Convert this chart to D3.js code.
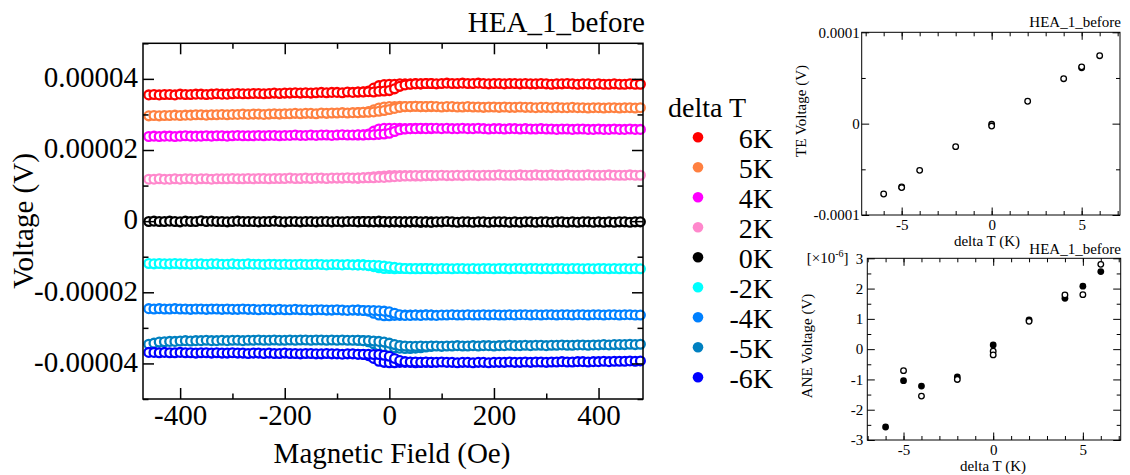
<!DOCTYPE html>
<html>
<head>
<meta charset="utf-8">
<script src="https://cdnjs.cloudflare.com/ajax/libs/d3/7.8.5/d3.min.js"></script>
<style>
  html, body { margin: 0; padding: 0; background: #fff; }
</style>
</head>
<body>
<script>
// ---- data (voltages in µV unless noted) ----
var fieldFwd = [-460,-450,-440,-430,-420,-410,-400,-390,-380,-370,-360,-350,-340,-330,-320,-310,-300,-290,-280,-270,
  -260,-250,-240,-230,-220,-210,-200,-190,-180,-170,-160,-150,-140,-130,-120,-110,-100,-90,-80,-70,-60,-50,
  -40,-30,-20,-10,0,10,20,30,
  40,50,60,70,80,90,100,110,120,130,140,150,160,170,180,190,200,210,220,230,240,250,260,270,280,290,
  300,310,320,330,340,350,360,370,380,390,400,410,420,430,440,450,460,470,480];
var fieldRet = [-60,-50,-40,-30,-20,-10,0,10,20,30,40,50,60,70,80];

var seriesLabels = ["6K","5K","4K","2K","0K","-2K","-4K","-5K","-6K"];
var seriesColors = ["#ff0000","#ff8040","#ff00ff","#ff88cc","#000000","#00ffff","#0080ff","#0080c0","#0000ff"];

var v6K = [35.5,35.6,35.5,35.6,35.6,35.5,35.7,35.6,35.6,35.7,35.7,35.6,35.7,35.8,35.7,35.7,35.8,35.9,35.8,35.8,
  35.9,35.9,35.8,35.9,36.0,35.9,36.0,36.0,36.1,36.0,36.1,36.0,36.1,36.2,36.1,36.2,36.2,36.1,36.3,36.2,36.3,36.3,
  36.4,36.3,36.5,36.6,36.7,37.2,37.9,38.3,
  38.5,38.6,38.6,38.7,38.7,38.6,38.7,38.8,38.7,38.7,38.8,38.7,38.7,38.8,38.7,38.6,38.7,38.7,38.6,38.7,
  38.7,38.6,38.7,38.6,38.6,38.7,38.6,38.5,38.6,38.6,38.7,38.6,38.5,38.6,38.6,38.5,38.6,38.5,38.5,38.6,
  38.5,38.5,38.6,38.5,38.5];
var v5K = [29.6,29.7,29.6,29.7,29.7,29.8,29.7,29.8,29.8,29.9,29.9,29.8,29.9,29.9,30.0,29.9,30.0,30.0,30.1,30.0,
  30.1,30.1,30.0,30.1,30.2,30.1,30.2,30.2,30.3,30.2,30.3,30.3,30.2,30.4,30.3,30.4,30.4,30.5,30.4,30.5,30.5,30.6,
  30.6,30.7,30.9,31.1,31.4,31.7,32.0,32.2,
  32.2,32.3,32.2,32.2,32.3,32.2,32.1,32.2,32.2,32.1,32.1,32.2,32.1,32.1,32.0,32.1,32.1,32.0,32.1,32.0,
  32.0,32.1,32.0,32.0,31.9,32.0,32.0,31.9,32.0,31.9,31.9,32.0,31.9,31.9,31.8,31.9,31.9,31.8,31.9,31.9,
  31.8,31.9,31.9,31.8,31.9];
var v4K = [23.8,23.9,23.8,23.9,23.9,23.8,23.9,24.0,23.9,23.9,23.9,24.0,23.9,24.0,24.0,23.9,24.0,24.1,24.0,24.0,
  24.0,24.1,24.0,24.1,24.1,24.0,24.1,24.1,24.2,24.1,24.1,24.2,24.1,24.2,24.2,24.1,24.2,24.3,24.2,24.2,24.3,24.2,
  24.3,24.3,24.4,24.5,24.7,25.2,25.7,25.9,
  26.0,26.0,26.1,26.0,26.1,26.1,26.0,26.1,26.0,26.0,26.1,26.0,26.0,26.1,26.0,25.9,26.0,26.0,25.9,26.0,
  26.0,25.9,26.0,25.9,25.9,26.0,25.9,25.9,25.8,25.9,25.9,25.8,25.9,25.9,25.8,25.8,25.9,25.8,25.8,25.9,
  25.8,25.8,25.9,25.8,25.8];
var v2K = [11.8,11.8,11.9,11.8,11.8,11.9,11.8,11.9,11.9,11.8,11.9,11.9,11.8,11.9,11.9,11.9,12.0,11.9,11.9,12.0,
  11.9,12.0,12.0,11.9,12.0,12.0,12.0,12.1,12.0,12.0,12.1,12.0,12.1,12.1,12.0,12.1,12.1,12.1,12.2,12.1,12.1,12.2,
  12.2,12.2,12.3,12.3,12.4,12.5,12.6,12.7,
  12.7,12.8,12.7,12.8,12.8,12.8,12.9,12.8,12.8,12.9,12.8,12.9,12.9,12.8,12.9,12.9,12.9,13.0,12.9,12.9,
  12.9,13.0,12.9,12.9,13.0,12.9,12.9,13.0,12.9,12.9,13.0,12.9,12.9,12.9,13.0,12.9,12.9,12.9,13.0,12.9,
  12.9,12.9,13.0,12.9,12.9];
var v0K = [-0.1,0.0,-0.1,-0.1,0.0,-0.1,-0.2,0.0,-0.1,-0.1,0.1,-0.1,0.0,-0.1,-0.1,-0.2,-0.1,0.0,-0.1,-0.1,
  -0.1,-0.2,-0.1,-0.1,0.0,-0.1,-0.2,-0.1,-0.1,-0.2,-0.1,-0.1,-0.2,-0.1,-0.1,-0.2,-0.1,-0.2,-0.1,-0.1,-0.2,-0.1,
  -0.1,-0.2,0.0,-0.1,-0.2,-0.1,-0.2,-0.2,
  -0.2,-0.1,-0.2,-0.2,-0.3,-0.2,-0.2,-0.1,-0.2,-0.3,-0.2,-0.2,-0.3,-0.2,-0.2,-0.3,-0.2,-0.2,-0.2,-0.3,
  -0.2,-0.3,-0.2,-0.2,-0.3,-0.2,-0.2,-0.3,-0.2,-0.2,-0.3,-0.2,-0.3,-0.2,-0.2,-0.3,-0.2,-0.3,-0.2,-0.3,
  -0.2,-0.2,-0.3,-0.2,-0.2];
var vm2K = [-11.9,-12.0,-11.9,-12.0,-12.0,-11.9,-12.0,-12.0,-12.1,-12.0,-12.0,-12.1,-12.0,-12.0,-12.1,-12.1,-12.0,-12.1,-12.1,-12.0,
  -12.1,-12.1,-12.2,-12.1,-12.1,-12.2,-12.1,-12.2,-12.2,-12.1,-12.2,-12.2,-12.1,-12.2,-12.3,-12.2,-12.2,-12.3,-12.2,-12.3,-12.3,-12.3,
  -12.4,-12.4,-12.5,-12.6,-12.8,-13.0,-13.2,-13.3,
  -13.4,-13.3,-13.4,-13.3,-13.3,-13.4,-13.3,-13.3,-13.4,-13.3,-13.3,-13.4,-13.3,-13.4,-13.3,-13.3,-13.4,-13.3,-13.3,-13.4,
  -13.3,-13.3,-13.4,-13.3,-13.3,-13.4,-13.3,-13.4,-13.3,-13.3,-13.4,-13.3,-13.3,-13.4,-13.3,-13.4,-13.3,-13.3,-13.4,-13.3,
  -13.4,-13.3,-13.4,-13.3,-13.4];
var vm4K = [-24.6,-24.7,-24.6,-24.7,-24.7,-24.6,-24.7,-24.7,-24.8,-24.7,-24.7,-24.8,-24.7,-24.7,-24.8,-24.7,-24.8,-24.8,-24.7,-24.8,
  -24.8,-24.9,-24.8,-24.8,-24.9,-24.8,-24.9,-24.9,-24.8,-24.9,-24.9,-25.0,-24.9,-24.9,-25.0,-25.0,-24.9,-25.0,-25.1,-25.0,-25.0,-25.1,
  -25.1,-25.1,-25.2,-25.3,-25.5,-25.9,-26.3,-26.5,
  -26.5,-26.4,-26.5,-26.4,-26.4,-26.5,-26.4,-26.4,-26.3,-26.4,-26.4,-26.3,-26.4,-26.4,-26.3,-26.4,-26.3,-26.4,-26.4,-26.3,
  -26.4,-26.3,-26.3,-26.4,-26.3,-26.4,-26.3,-26.3,-26.4,-26.3,-26.3,-26.4,-26.3,-26.3,-26.4,-26.3,-26.3,-26.4,-26.3,-26.3,
  -26.4,-26.3,-26.3,-26.4,-26.4];
var vm5K = [-34.6,-34.3,-34.0,-33.9,-33.8,-33.8,-33.7,-33.6,-33.7,-33.6,-33.6,-33.5,-33.6,-33.6,-33.5,-33.6,-33.5,-33.5,-33.6,-33.5,
  -33.5,-33.4,-33.5,-33.5,-33.4,-33.5,-33.5,-33.4,-33.5,-33.4,-33.4,-33.5,-33.4,-33.4,-33.5,-33.4,-33.5,-33.4,-33.5,-33.5,-33.5,-33.6,
  -33.6,-33.7,-33.8,-34.0,-34.3,-34.7,-35.0,-35.1,
  -35.2,-35.2,-35.1,-35.2,-35.1,-35.1,-35.2,-35.1,-35.1,-35.0,-35.1,-35.1,-35.0,-35.1,-35.0,-35.0,-35.1,-35.0,-35.0,-34.9,
  -35.0,-35.0,-34.9,-35.0,-34.9,-34.9,-35.0,-34.9,-34.9,-34.8,-34.9,-34.9,-34.8,-34.8,-34.9,-34.8,-34.8,-34.7,-34.8,-34.7,
  -34.7,-34.7,-34.6,-34.7,-34.6];
var vm6K = [-36.9,-36.9,-37.0,-36.9,-37.0,-37.0,-36.9,-37.0,-37.0,-37.1,-37.0,-37.0,-37.1,-37.0,-37.1,-37.1,-37.0,-37.1,-37.1,-37.2,
  -37.1,-37.1,-37.2,-37.1,-37.2,-37.2,-37.1,-37.2,-37.2,-37.3,-37.2,-37.2,-37.3,-37.3,-37.2,-37.3,-37.3,-37.4,-37.3,-37.3,-37.4,-37.4,
  -37.4,-37.5,-37.5,-37.7,-38.0,-38.6,-39.2,-39.5,
  -39.6,-39.6,-39.7,-39.6,-39.7,-39.7,-39.6,-39.7,-39.7,-39.8,-39.7,-39.7,-39.8,-39.7,-39.7,-39.8,-39.7,-39.7,-39.7,-39.6,
  -39.7,-39.7,-39.6,-39.7,-39.6,-39.6,-39.7,-39.6,-39.6,-39.5,-39.6,-39.6,-39.5,-39.5,-39.6,-39.5,-39.5,-39.4,-39.5,-39.4,
  -39.4,-39.4,-39.3,-39.4,-39.3];

// return sweep, only the part around zero field where it separates from the forward sweep
var r6K  = [36.3,36.4,36.6,37.4,38.1,38.4,38.5,38.5,38.6,38.6,38.6,38.7,38.6,38.7,38.7];
var r5K  = [30.5,30.6,30.8,31.3,31.8,32.1,32.2,32.2,32.3,32.2,32.2,32.3,32.2,32.2,32.2];
var r4K  = [24.2,24.3,24.5,25.3,25.9,26.1,26.1,26.1,26.1,26.0,26.0,26.1,26.0,26.1,26.0];
var r2K  = [12.1,12.2,12.3,12.5,12.6,12.7,12.8,12.8,12.8,12.8,12.8,12.7,12.8,12.8,12.8];
var r0K  = [-0.1,-0.1,-0.2,-0.1,-0.2,-0.2,-0.2,-0.2,-0.2,-0.2,-0.2,-0.2,-0.3,-0.2,-0.2];
var rm2K = [-12.3,-12.3,-12.5,-12.8,-13.1,-13.3,-13.3,-13.4,-13.3,-13.3,-13.3,-13.4,-13.3,-13.3,-13.4];
var rm4K = [-25.0,-25.1,-25.3,-25.9,-26.4,-26.6,-26.6,-26.5,-26.5,-26.4,-26.4,-26.4,-26.4,-26.3,-26.4];
var rm5K = [-33.5,-33.6,-33.9,-34.5,-35.0,-35.3,-35.5,-35.6,-35.7,-35.8,-35.8,-35.7,-35.6,-35.4,-35.2];
var rm6K = [-37.4,-37.5,-37.8,-38.6,-39.4,-39.7,-39.8,-39.8,-39.7,-39.7,-39.7,-39.8,-39.7,-39.7,-39.7];

var fwdValues = [v6K, v5K, v4K, v2K, v0K, vm2K, vm4K, vm5K, vm6K];
var retValues = [r6K, r5K, r4K, r2K, r0K, rm2K, rm4K, rm5K, rm6K];

// TE voltage (V) vs delta T
var teDT = [-6,-5,-5,-4,-2,0,0,2,4,5,5,6];
var teV = [-7.70e-5,-6.93e-5,-7.00e-5,-5.11e-5,-2.52e-5,-0.07e-5,-0.26e-5,2.45e-5,4.92e-5,6.12e-5,6.22e-5,7.44e-5];

// ANE voltage (x1e-6 V) vs delta T
var aneFilledDT = [-6,-5,-4,-2,0,2,4,5,6];
var aneFilled = [-2.57,-1.04,-1.22,-0.92,0.14,0.97,1.68,2.08,2.56];
var aneOpenDT = [-5,-4,-2,0,0,2,4,5,6];
var aneOpen = [-0.71,-1.55,-1.00,-0.07,-0.19,0.92,1.79,1.80,2.80];

var mainXTicks = [-400,-200,0,200,400], mainXMinor = [-300,-100,100,300];
var mainYTicks = [-40,-20,0,20,40], mainYMinor = [-50,-30,-10,10,30,50];

var FONT = "'Liberation Serif', 'DejaVu Serif', Tinos, 'Times New Roman', serif";

// ---- drawing ----
var svg = d3.select("body").append("svg").attr("width", 1130).attr("height", 475)
  .style("font-family", FONT);

function frame(x, y, o) {
  var x0 = x.range()[0], x1 = x.range()[1], y0 = y.range()[0], y1 = y.range()[1];
  var none = function() { return ""; };
  var sides = [
    [d3.axisBottom, x, "translate(0," + y0 + ")", true, true],
    [d3.axisTop, x, "translate(0," + y1 + ")", false, true],
    [d3.axisLeft, y, "translate(" + x0 + ",0)", true, false],
    [d3.axisRight, y, "translate(" + x1 + ",0)", false, false]
  ];
  sides.forEach(function(s) {
    var isX = s[4];
    var minor = s[0](s[1]).tickValues(isX ? o.xMinor : o.yMinor).tickSize(-o.minor).tickFormat(none);
    var major = s[0](s[1]).tickValues(isX ? o.xMajor : o.yMajor).tickSize(-o.major)
      .tickPadding(isX ? o.xPad : o.yPad).tickFormat(s[3] ? (isX ? o.xFmt : o.yFmt) : none);
    [minor, major].forEach(function(ax) {
      var g = svg.append("g").attr("transform", s[2]).call(ax);
      g.select(".domain").remove();
      g.selectAll("line").attr("stroke", "#000").attr("stroke-width", o.sw);
      g.selectAll("text").attr("font-size", o.font);
      if (!isX) g.selectAll("text").attr("dy", o.ydy);
    });
  });
  svg.append("rect").attr("x", x0).attr("y", y1).attr("width", x1 - x0).attr("height", y0 - y1)
    .attr("fill", "none").attr("stroke", "#000").attr("stroke-width", o.sw);
}

// main panel
var x = d3.scaleLinear().domain([-471, 485]).range([143, 643]);
var y = d3.scaleLinear().domain([-50, 50]).range([399, 43.3]);

svg.selectAll("g.series").data(fwdValues).enter().append("g").attr("class", "series")
  .each(function(vals, i) {
    var g = d3.select(this);
    g.selectAll("circle.ret").data(retValues[i]).enter().append("circle").attr("class", "ret")
      .attr("cx", function(d, j) { return x(fieldRet[j]); })
      .attr("cy", function(d) { return y(d); })
      .attr("r", 4.4).attr("fill", "#fff").attr("stroke", seriesColors[i]).attr("stroke-width", 2.3);
    g.selectAll("circle.fwd").data(vals).enter().append("circle").attr("class", "fwd")
      .attr("cx", function(d, j) { return x(fieldFwd[j]); })
      .attr("cy", function(d) { return y(d); })
      .attr("r", 4.4).attr("fill", "#fff").attr("stroke", seriesColors[i]).attr("stroke-width", 2.3);
  });

frame(x, y, {
  xMajor: mainXTicks, xMinor: mainXMinor, yMajor: mainYTicks, yMinor: mainYMinor,
  major: 11, minor: 5.5, sw: 1.5, font: 29, xPad: 5, yPad: 5, ydy: "0.27em",
  xFmt: function(d) { return String(d); },
  yFmt: function(d) { return d === 0 ? "0" : (d * 1e-6).toFixed(5); }
});

svg.append("text").attr("x", 645).attr("y", 32).attr("text-anchor", "end").attr("font-size", 29).text("HEA_1_before");
svg.append("text").attr("x", 392).attr("y", 463).attr("text-anchor", "middle").attr("font-size", 29).text("Magnetic Field (Oe)");
svg.append("text").attr("transform", "translate(33,221) rotate(-90)").attr("text-anchor", "middle")
  .attr("font-size", 29).text("Voltage (V)");

// legend
var leg = svg.append("g");
leg.append("text").attr("x", 668).attr("y", 117).attr("font-size", 28).text("delta T");
var items = leg.selectAll("g.item").data(seriesLabels).enter().append("g").attr("class", "item")
  .attr("transform", function(d, i) { return "translate(698," + (137.3 + 30 * i) + ")"; });
items.append("circle").attr("r", 5.3).attr("fill", function(d, i) { return seriesColors[i]; });
items.append("text").attr("x", 75).attr("y", 11).attr("text-anchor", "end").attr("font-size", 28)
  .text(function(d) { return d; });

// TE panel
var xt = d3.scaleLinear().domain([-7.22, 7.13]).range([861.7, 1120]);
var yt = d3.scaleLinear().domain([-1e-4, 1e-4]).range([215, 32.3]);
frame(xt, yt, {
  xMajor: [-5, 0, 5], xMinor: d3.range(-7, 8), yMajor: [-1e-4, 0, 1e-4], yMinor: [-5e-5, 5e-5],
  major: 7.5, minor: 4, sw: 1, font: 15, xPad: 4.5, yPad: 2, ydy: "0.32em",
  xFmt: function(d) { return String(d); },
  yFmt: function(d) { return d === 0 ? "0" : String(d); }
});
svg.append("g").selectAll("circle").data(teV).enter().append("circle")
  .attr("cx", function(d, i) { return xt(teDT[i]); })
  .attr("cy", function(d) { return yt(d); })
  .attr("r", 2.8).attr("fill", "#fff").attr("stroke", "#000").attr("stroke-width", 1.3);
svg.append("text").attr("x", 1121).attr("y", 26.7).attr("text-anchor", "end").attr("font-size", 15).text("HEA_1_before");
svg.append("text").attr("x", 987).attr("y", 246).attr("text-anchor", "middle").attr("font-size", 15).text("delta T (K)");
svg.append("text").attr("transform", "translate(805.5,111) rotate(-90)").attr("text-anchor", "middle")
  .attr("font-size", 15).text("TE Voltage (V)");

// ANE panel
var xa = d3.scaleLinear().domain([-7.02, 7.11]).range([867.3, 1120.7]);
var ya = d3.scaleLinear().domain([-3, 3]).range([440, 258.3]);
frame(xa, ya, {
  xMajor: [-5, 0, 5], xMinor: d3.range(-7, 8), yMajor: d3.range(-3, 4), yMinor: d3.range(-2.5, 3, 1),
  major: 7.5, minor: 4, sw: 1, font: 15, xPad: 4.5, yPad: 4, ydy: "0.32em",
  xFmt: function(d) { return String(d); },
  yFmt: function(d) { return String(d); }
});
svg.append("g").selectAll("circle").data(aneFilled).enter().append("circle")
  .attr("cx", function(d, i) { return xa(aneFilledDT[i]); })
  .attr("cy", function(d) { return ya(d); })
  .attr("r", 3.4).attr("fill", "#000");
svg.append("g").selectAll("circle").data(aneOpen).enter().append("circle")
  .attr("cx", function(d, i) { return xa(aneOpenDT[i]); })
  .attr("cy", function(d) { return ya(d); })
  .attr("r", 2.8).attr("fill", "#fff").attr("stroke", "#000").attr("stroke-width", 1.3);
svg.append("text").attr("x", 1121).attr("y", 254).attr("text-anchor", "end").attr("font-size", 15).text("HEA_1_before");
svg.append("text").attr("x", 993).attr("y", 471).attr("text-anchor", "middle").attr("font-size", 15).text("delta T (K)");
svg.append("text").attr("transform", "translate(812,346) rotate(-90)").attr("text-anchor", "middle")
  .attr("font-size", 15).text("ANE Voltage (V)");
var mult = svg.append("text").attr("x", 806.7).attr("y", 263).attr("font-size", 15);
mult.append("tspan").text("[\u00d710");
mult.append("tspan").attr("dy", -6).attr("font-size", 10).text("-6");
mult.append("tspan").attr("dy", 6).text("]");

// every text in the serif face, including the axis labels d3 marks as sans-serif
svg.selectAll("text").style("font-family", FONT).style("fill", "#000");
</script>
</body>
</html>
